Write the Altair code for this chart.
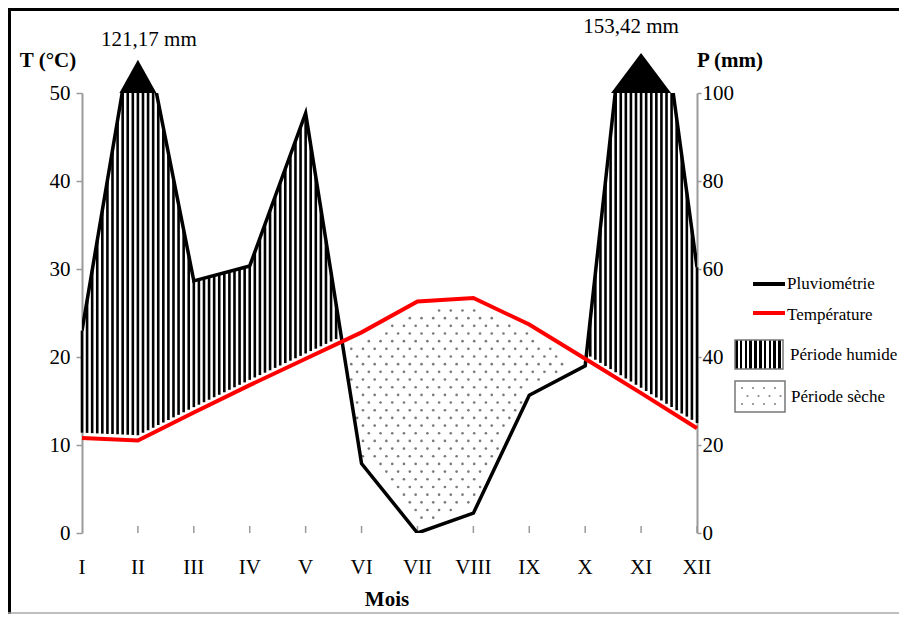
import altair as alt
import pandas as pd

# ---------------- data ----------------
months = ["I", "II", "III", "IV", "V", "VI", "VII", "VIII", "IX", "X", "XI", "XII"]
temperature = [10.8, 10.5, 13.7, 16.8, 19.8, 22.8, 26.3, 26.7, 23.7, 19.8, 15.9, 11.9]   # °C
precipitation = [46.0, 121.17, 57.3, 60.7, 95.4, 15.8, 0.0, 4.5, 31.3, 38.0, 153.42, 60.4]  # mm
T_MAX = 50
P_MAX = 100
t_ticks = [0, 10, 20, 30, 40, 50]
p_ticks = [0, 20, 40, 60, 80, 100]
legend_labels = ["Pluviométrie", "Température", "Période humide", "Période sèche"]
axis_titles = {"T": "T (°C)", "P": "P (mm)", "x": "Mois"}

rows = [{"m": i + 1, "mois": months[i], "T": temperature[i], "P": precipitation[i]}
        for i in range(len(months))]
df = pd.DataFrame(rows)

# ---------------- layout / style ----------------
W, H = 615, 440
FONT = "Liberation Serif"
GREY = "#9a9a9a"
RATIO = T_MAX / P_MAX  # P = 2T

yT = alt.Scale(domain=[0, T_MAX], nice=False, zero=True)
yP = alt.Scale(domain=[0, P_MAX], nice=False, zero=True)
xS = alt.Scale(domain=[1, len(months)], nice=False, zero=False)

x_axis = alt.Axis(values=list(range(1, len(months) + 1)), labels=False, title=None,
                  ticks=False, grid=False, domainColor=GREY, domainWidth=2)
left_axis = alt.Axis(orient="left", values=t_ticks, title=None, grid=False, tickSize=6,
                     tickColor=GREY, tickWidth=1.5, domainColor=GREY, domainWidth=2,
                     labelPadding=6, labelFont=FONT, labelFontSize=21, labelColor="black")
right_axis = alt.Axis(orient="right", values=p_ticks, title=None, grid=False, tickSize=4,
                      tickColor=GREY, tickWidth=1.5, domainColor=GREY, domainWidth=2,
                      labelPadding=1, labelFont=FONT, labelFontSize=21, labelColor="black")

NM = len(months) - 1
T_ARR = "[" + ",".join(str(v) for v in temperature) + "]"
P_ARR = "[" + ",".join(str(v) for v in precipitation) + "]"
one = pd.DataFrame({"k": [0]})


def grid_x(count, step):
    """x positions generated by Vega (sequence + flatten) and T, P interpolated there."""
    return (alt.Chart(one)
            .transform_calculate(iseq="sequence(0, %d)" % count)
            .transform_flatten(["iseq"], as_=["i"])
            .transform_calculate(x="1 + datum.i * %f" % step)
            .transform_calculate(m0="min(floor(datum.x), %d)" % NM)
            .transform_calculate(f="datum.x - datum.m0")
            .transform_calculate(Tx="%s[datum.m0 - 1] + datum.f * (%s[datum.m0] - %s[datum.m0 - 1])"
                                    % (T_ARR, T_ARR, T_ARR))
            .transform_calculate(Px="%s[datum.m0 - 1] + datum.f * (%s[datum.m0] - %s[datum.m0 - 1])"
                                    % (P_ARR, P_ARR, P_ARR))
            .transform_calculate(Ph="min(datum.Px * %f, %f)" % (RATIO, T_MAX)))


# humid period: vertical hatching between T and P/2
hatch = (grid_x(NM * 11 + 1, 1 / 11)
         .transform_calculate(lo="datum.Tx + 0.6")
         .transform_filter("datum.Ph > datum.lo")
         .mark_rule(color="black", strokeWidth=2.6)
         .encode(x=alt.X("x:Q", scale=xS, axis=x_axis),
                 y=alt.Y("lo:Q", scale=yT, axis=None),
                 y2="Ph:Q"))

# dry period: staggered dots between P/2 and T
dots = (grid_x(106, 0.1047)
        .transform_calculate(js="sequence(0, 58)")
        .transform_flatten(["js"], as_=["j"])
        .transform_filter("(datum.i + datum.j) % 2 == 0")
        .transform_calculate(yv="datum.j * 0.872")
        .transform_filter("datum.yv > datum.Ph + 1.0 && datum.yv < datum.Tx - 1.1")
        .mark_circle(color="#7a7a7a", size=7, opacity=1)
        .encode(x=alt.X("x:Q", scale=xS, axis=None),
                y=alt.Y("yv:Q", scale=yT, axis=None)))

xticks = (alt.Chart(df).transform_filter("datum.m > 1")
          .mark_rule(color=GREY, strokeWidth=1.5)
          .encode(x=alt.X("m:Q", scale=xS, axis=None), y=alt.value(H - 7), y2=alt.value(H)))

month_labels = (alt.Chart(df)
                .mark_text(font=FONT, fontSize=21, color="black", baseline="middle", align="center")
                .encode(x=alt.X("m:Q", scale=xS, axis=None), y=alt.value(H + 35), text="mois:N"))

pline = (alt.Chart(df).mark_line(color="black", strokeWidth=3.5, clip=True)
         .encode(x=alt.X("m:Q", scale=xS, axis=None),
                 y=alt.Y("P:Q", scale=yP, axis=right_axis)))

tline = (alt.Chart(df).mark_line(color="#ff0000", strokeWidth=4)
         .encode(x=alt.X("m:Q", scale=xS, axis=None),
                 y=alt.Y("T:Q", scale=yT, axis=left_axis)))

# clipped peaks: triangle + value label
peak_style = {
    "II": dict(shape="M-1,0L0,-1.8L1,0Z", size=37 ** 2, dx=11, dy=-53),
    "XI": dict(shape="M-1,0L0,-1.33L1,0Z", size=60 ** 2, dx=-10, dy=-66),
}
peak_layers = []
for mname, st in peak_style.items():
    base = (alt.Chart(df).transform_filter("datum.mois == '%s' && datum.P > %f" % (mname, P_MAX))
            .transform_calculate(top=str(T_MAX))
            .transform_calculate(lab="replace(format(datum.P, '.2f'), '.', ',') + ' mm'"))
    peak_layers.append(base.mark_point(shape=st["shape"], size=st["size"], filled=True,
                                       color="black", opacity=1, strokeWidth=0)
                       .encode(x=alt.X("m:Q", scale=xS, axis=None),
                               y=alt.Y("top:Q", scale=yT, axis=None)))
    peak_layers.append(base.mark_text(font=FONT, fontSize=21, color="black", dx=st["dx"],
                                      dy=st["dy"], baseline="middle", align="center")
                       .encode(x=alt.X("m:Q", scale=xS, axis=None),
                               y=alt.Y("top:Q", scale=yT, axis=None), text="lab:N"))


def txt(s, x, y, size=21, bold=False, align="center", color="black"):
    return (alt.Chart(pd.DataFrame({"t": [s]}))
            .mark_text(font=FONT, fontSize=size, fontWeight="bold" if bold else "normal",
                       align=align, baseline="middle", color=color)
            .encode(x=alt.value(x), y=alt.value(y), text="t:N"))


def hrule(x1, x2, y, color, width):
    return alt.Chart(one).mark_rule(color=color, strokeWidth=width).encode(
        x=alt.value(x1), x2=alt.value(x2), y=alt.value(y))


def vrule(x, y1, y2, color, width):
    return alt.Chart(one).mark_rule(color=color, strokeWidth=width).encode(
        x=alt.value(x), y=alt.value(y1), y2=alt.value(y2))


def dot(x, y):
    return alt.Chart(one).mark_circle(color="#888", size=5, opacity=1).encode(
        x=alt.value(x), y=alt.value(y))


titles = [
    txt(axis_titles["T"], -34, -32, bold=True),
    txt(axis_titles["P"], 648, -32, bold=True),
    txt(axis_titles["x"], 305, 507, bold=True),
]

# legend
n = 10
stops = []
for k in range(n):
    a, b, c = k / n, (k + 0.55) / n, (k + 1) / n
    stops += [{"offset": a, "color": "black"}, {"offset": b, "color": "black"},
              {"offset": b, "color": "white"}, {"offset": c, "color": "white"}]
stripe_fill = {"gradient": "linear", "x1": 0, "x2": 1, "y1": 0, "y2": 0, "stops": stops}

LS = 17
legend = [
    hrule(671, 703, 191, "black", 4),
    txt(legend_labels[0], 705, 191, size=LS, align="left"),
    hrule(671, 703, 220, "#ff0000", 4),
    txt(legend_labels[1], 705, 222, size=LS, align="left"),
    alt.Chart(one).mark_rect(fill=stripe_fill, stroke="#777", strokeWidth=1.5).encode(
        x=alt.value(653), x2=alt.value(701), y=alt.value(247), y2=alt.value(276)),
    txt(legend_labels[2], 708, 262, size=LS, align="left"),
    alt.Chart(one).mark_rect(fill="white", stroke="#777", strokeWidth=1.5).encode(
        x=alt.value(653), x2=alt.value(703), y=alt.value(288), y2=alt.value(319)),
    txt(legend_labels[3], 709, 304, size=LS, align="left"),
]
for r, yy in enumerate([295, 303, 311]):
    off = 0 if r % 2 == 0 else 5.5
    for c in range(4):
        legend.append(dot(660 + off + c * 11, yy))

frame = [
    hrule(-74, 817, -83.5, "black", 3),
    vrule(-72.5, -85, 521, "black", 3),
    hrule(-74, 817, 520, "#aaaaaa", 1.5),
]

chart = (alt.layer(hatch, dots, xticks, month_labels, pline, tline, *peak_layers, *titles,
                   *legend, *frame)
         .resolve_scale(y="independent")
         .properties(width=W, height=H, autosize="none",
                     padding={"left": 74, "top": 85, "right": 202, "bottom": 81},
                     background="white")
         .configure_view(strokeOpacity=0))

chart.save("out.html", embed_options={"renderer": "svg", "actions": False})
